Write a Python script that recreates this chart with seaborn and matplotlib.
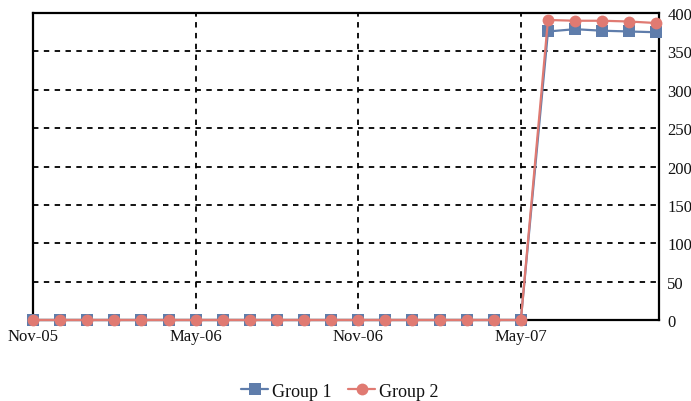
import matplotlib
matplotlib.use("Agg")
import matplotlib.pyplot as plt
import seaborn as sns
import pandas as pd
import numpy as np

months = ["Nov-05","Dec-05","Jan-06","Feb-06","Mar-06","Apr-06","May-06","Jun-06","Jul-06","Aug-06",
          "Sep-06","Oct-06","Nov-06","Dec-06","Jan-07","Feb-07","Mar-07","Apr-07","May-07",
          "Jun-07","Jul-07","Aug-07","Sep-07","Oct-07"]
group1 = [0]*19 + [376, 379, 377, 376, 375]
group2 = [0]*19 + [391, 390, 390, 389, 387]
tick_labels = ["Nov-05", "May-06", "Nov-06", "May-07"]

sns.set_style("white")
plt.rcParams['font.family'] = ['Liberation Serif', 'DejaVu Serif']

idx = np.arange(len(months))
df = pd.DataFrame({
    "x": np.concatenate([idx, idx]),
    "value": group1 + group2,
    "series": ["Group 1"]*len(months) + ["Group 2"]*len(months),
})

fig = plt.figure(figsize=(6.91, 4.02), dpi=100)
ax = fig.add_axes([0.0478, 0.2015, 0.906, 0.7635])

palette = {"Group 1": "#5F7DAB", "Group 2": "#E07A72"}
sns.lineplot(data=df, x="x", y="value", hue="series", style="series",
             markers={"Group 1": "s", "Group 2": "o"}, dashes=False,
             palette=palette, markersize=8.5, linewidth=1.6, markeredgewidth=0,
             ax=ax, legend=True)
for ln in ax.lines:
    ln.set_clip_on(False)
    ln.set_zorder(5)

ax.set_xlim(0, 23.1)
ax.set_ylim(0, 400)
ax.set_xticks([months.index(t) for t in tick_labels])
ax.set_xticklabels(tick_labels)
ax.set_yticks(np.arange(0, 401, 50))
ax.yaxis.tick_right()
ax.yaxis.set_label_position("right")
ax.set_xlabel("")
ax.set_ylabel("")
ax.tick_params(axis="both", length=0, labelsize=12, colors="#111111")
ax.tick_params(axis="x", pad=6)
ax.tick_params(axis="y", pad=6)

ax.grid(True, axis="both", linestyle=(0, (3, 3)), color="black", linewidth=1.3)
for s in ax.spines.values():
    s.set_color("black")
    s.set_linewidth(1.6)
    s.set_visible(True)

handles, labels = ax.get_legend_handles_labels()
leg = ax.legend(handles, labels, loc="center", bbox_to_anchor=(0.49, -0.232),
                ncol=2, frameon=False, fontsize=13, handlelength=1.5,
                handletextpad=0.2, columnspacing=0.9)
for t in leg.get_texts():
    t.set_color("#111111")

fig.savefig("out.png", dpi=100)
